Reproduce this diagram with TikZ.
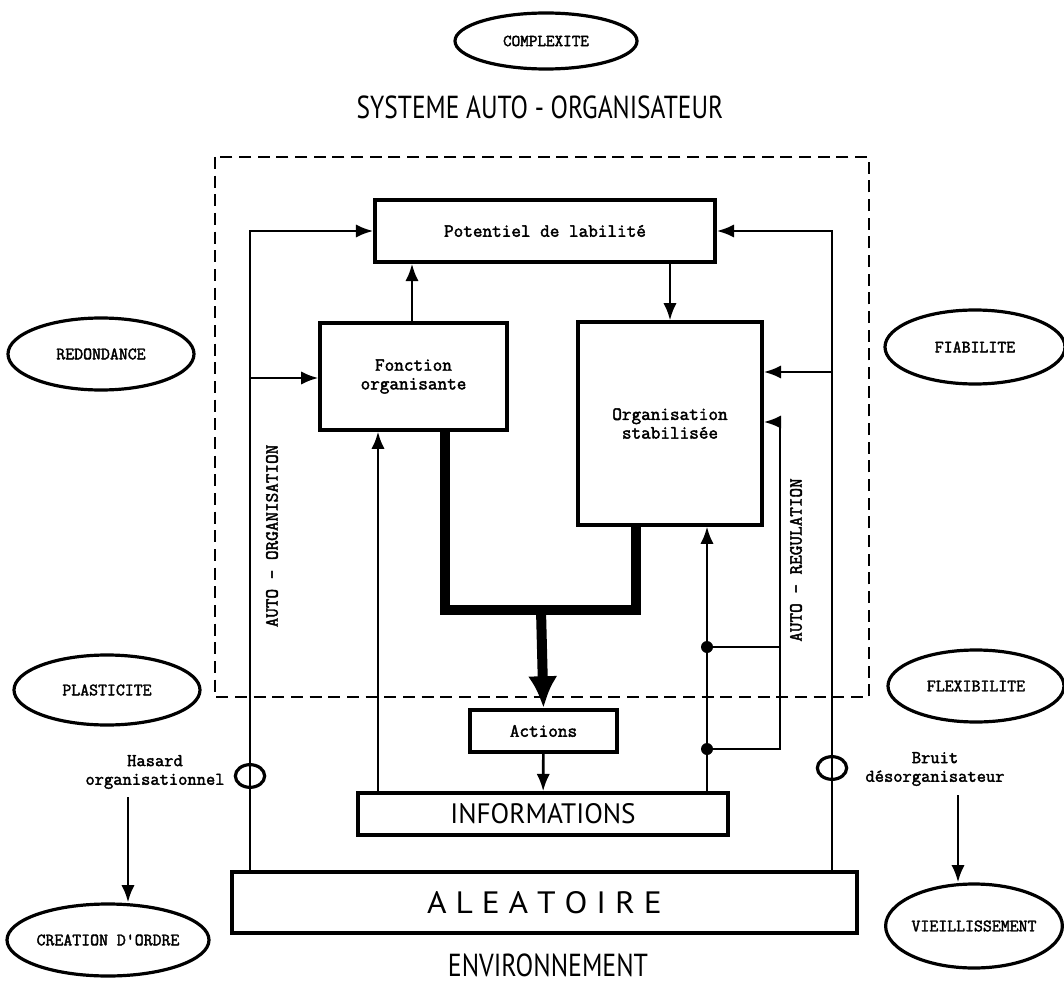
\documentclass[tikz,border=0pt]{standalone}
\usepackage{fontspec}
\usepackage{graphicx}
\setmonofont{Latin Modern Mono}[AutoFakeBold=2.2]
\newfontfamily\titlefont{PT Sans}
\usetikzlibrary{arrows.meta, positioning, shapes.geometric}
\newcommand{\titlebox}[3]{\resizebox{#1}{#2}{\titlefont\mdseries #3}}

\begin{document}
\begin{tikzpicture}[x=0.75pt, y=-0.75pt, >={Latex[length=13pt,width=10pt]}, line width=2pt]
  \tikzstyle{box}=[rectangle, draw, line width=2.6pt, inner sep=0pt, align=center, font=\ttfamily\bfseries\fontsize{14}{14}\selectfont]
  \tikzstyle{bubble}=[ellipse, draw, line width=2.4pt, inner sep=0pt, font=\ttfamily\bfseries\fontsize{13}{14}\selectfont]
  \tikzstyle{side}=[rotate=90, font=\ttfamily\bfseries\fontsize{14}{15}\selectfont]
  \tikzstyle{note}=[align=center, font=\ttfamily\bfseries\fontsize{13.5}{14}\selectfont]
  \tikzstyle{heavy}=[line width=7.5pt]
  \tikzstyle{dot}=[circle, fill, inner sep=0pt, minimum size=9pt]
  \tikzstyle{ring}=[ellipse, draw, line width=2.4pt, minimum width=22pt, minimum height=17pt]

  \useasboundingbox (0,0) rectangle (1064,995);

  % titles
  \node (sys) at (540,107) {\titlebox{275pt}{17pt}{SYSTEME AUTO - ORGANISATEUR}};
  \node (env) at (548,965) {\titlebox{150pt}{17pt}{ENVIRONNEMENT}};

  % system border
  \draw[dashed, dash pattern=on 9pt off 5pt, line width=1.5pt] (215,157) rectangle (869,697);

  % boxes
  \node[box, minimum width=255pt, minimum height=46.5pt] (pot) at (545,231) {Potentiel de labilité};
  \node[box, minimum width=140pt, minimum height=80pt] (fon) at (413.5,376.5) {Fonction\\organisante};
  \node[box, minimum width=138pt, minimum height=152pt] (org) at (670,423.5) {Organisation\\stabilisée};
  \node[box, minimum width=110pt, minimum height=31.5pt] (act) at (543.5,731) {Actions};
  \node[box, minimum width=277.5pt, minimum height=31.5pt] (info) at (543,814) {\titlebox{139pt}{15pt}{INFORMATIONS}};
  \node[box, minimum width=468.75pt, minimum height=45.75pt] (alea) at (544.5,902.5) {\titlebox{176pt}{16.5pt}{A L E A T O I R E}};

  % qualities
  \node[bubble, minimum width=136.5pt, minimum height=42pt, font=\ttfamily\bfseries\fontsize{12.5}{13}\selectfont] (cpx) at (546,41) {COMPLEXITE};
  \node[bubble, minimum width=139.5pt, minimum height=54pt] (red) at (101,354) {REDONDANCE};
  \node[bubble, minimum width=139.5pt, minimum height=52.5pt] (pla) at (107,690) {PLASTICITE};
  \node[bubble, minimum width=135pt, minimum height=55.5pt] (fia) at (975,347) {FIABILITE};
  \node[bubble, minimum width=132pt, minimum height=54pt] (fle) at (976,686) {FLEXIBILITE};
  \node[bubble, minimum width=147pt, minimum height=54pt] (cre) at (108,940) {CREATION D'ORDRE};
  \node[bubble, minimum width=132pt, minimum height=63pt] (vie) at (974,926) {VIEILLISSEMENT};

  % loop lines
  \coordinate (ll) at (250,378);
  \coordinate (rl) at (832,372);
  \coordinate (up) at (412,0);
  \coordinate (dn) at (670,0);
  \coordinate (il) at (378,0);
  \coordinate (ir) at (707,0);
  \coordinate (rg) at (780,422);
  \coordinate (tj) at (541,610);
  \coordinate (tl) at (445,0);
  \coordinate (tr) at (636,0);

  \draw[->] (ll |- alea.north) -- (ll |- pot.west) -- (pot.west);
  \draw[->] (ll) -- (ll -| fon.west);
  \draw[->] (rl |- alea.north) -- (rl |- pot.east) -- (pot.east);
  \draw[->] (rl) -- (rl -| org.east);

  \draw[->] (fon.north -| up) -- (pot.south -| up);
  \draw[->] (pot.south -| dn) -- (org.north -| dn);
  \draw[->] (info.north -| il) -- (fon.south -| il);
  \draw[->] (info.north -| ir) -- (org.south -| ir);
  \draw[->] (act) -- (info);

  % regulation loop
  \node[dot] (d1) at (707,647) {};
  \node[dot] (d2) at (707,749) {};
  \draw (d1.center) -- (d1 -| rg);
  \draw[->] (d2.center) -| (rg) -- (rg -| org.east);

  % actions
  \draw[heavy, line join=miter] (fon.south -| tl) |- (tj) -| (org.south -| tr);
  \draw[heavy, -{Latex[length=24pt,width=22pt]}] (tj) -- (act.north);

  % noise
  \node[ring] (hc) at (250,776) {};
  \node[ring] (bc) at (832,768) {};
  \node[note] (has) at (155,772) {Hasard\\organisationnel};
  \node[note] (bru) at (935,769) {Bruit\\désorganisateur};
  \coordinate (ha) at (128,797);
  \coordinate (ba) at (958,795);
  \draw[->] (ha) -- (ha |- cre.north);
  \draw[->] (ba) -- (ba |- vie.north);

  % side labels
  \node[side] (aor) at (272,536) {AUTO - ORGANISATION};
  \node[side] (are) at (796,560) {AUTO - REGULATION};

\end{tikzpicture}
\end{document}
